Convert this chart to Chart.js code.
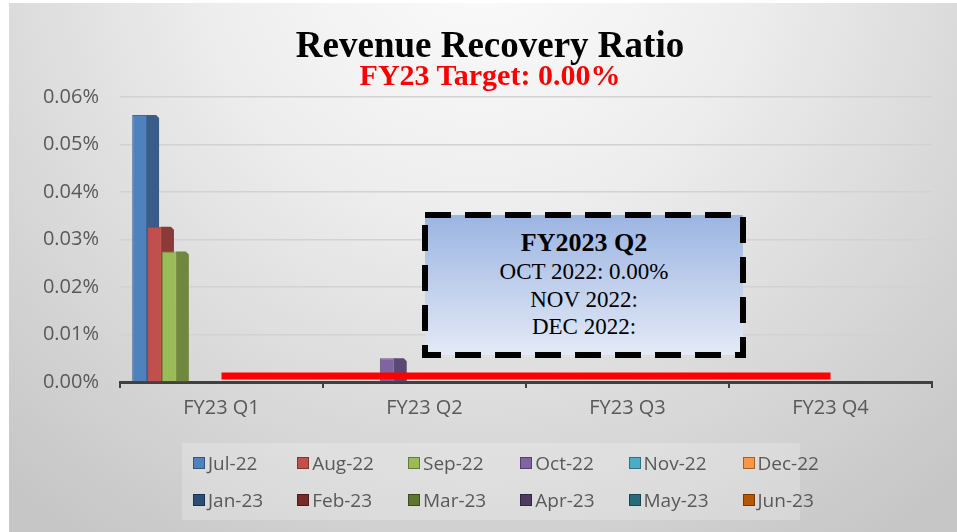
<!DOCTYPE html>
<html>
<head>
<meta charset="utf-8">
<script src="https://cdn.jsdelivr.net/npm/chart.js@4.4.1/dist/chart.umd.min.js"></script>
<style>
  body { margin:0; background:#fff; }
  #wrap { position:relative; width:957px; height:532px; overflow:hidden; }
  #c { position:absolute; left:0; top:0; }
  .ttl { position:absolute; left:290px; width:400px; text-align:center; white-space:nowrap;
    font-family:"Liberation Serif", "Times New Roman", serif; font-weight:bold; }
  #title { top:23px; font-size:37px; line-height:44px; color:#000; }
  #subtitle { top:57px; font-size:30px; line-height:36px; color:#ff0000; }
  #legend { position:absolute; left:182px; top:443px; width:618px; height:77px;
    background:rgba(255,255,255,0.22); box-sizing:border-box; padding:1px 0 0 11px;
    display:grid; grid-template-columns:repeat(6, auto); justify-content:start;
    column-gap:34px; grid-auto-rows:37px; font-family:"Open Sans", sans-serif; font-size:19px; color:#595959; }
  .li { display:flex; align-items:center; white-space:nowrap; }
  .sw { width:12px; height:12px; margin-right:3px; box-sizing:border-box; border:1px solid rgba(0,0,0,0.35); }
  #anno { position:absolute; left:419px; top:209px; }
  #annoText { position:absolute; left:425px; top:228px; width:318px; text-align:center;
    font-family:"Liberation Serif", "Times New Roman", serif; color:#000; }
  #annoText .h { font-weight:bold; font-size:26px; line-height:30px; }
  #annoText .l { font-size:23px; line-height:27.5px; }
</style>
</head>
<body>
<div id="wrap">
  <canvas id="c" width="957" height="532"></canvas>
  <div id="title" class="ttl"></div>
  <div id="subtitle" class="ttl"></div>
  <svg id="anno" width="330" height="152">
    <defs>
      <linearGradient id="ag" x1="0" y1="0" x2="0" y2="1">
        <stop offset="0" stop-color="#9bb4e2"/>
        <stop offset="1" stop-color="#e4eaf6"/>
      </linearGradient>
    </defs>
    <rect x="6" y="6" width="318" height="140" fill="url(#ag)" stroke="#000" stroke-width="6" stroke-dasharray="26 14"/>
  </svg>
  <div id="annoText"></div>
  <div id="legend"></div>
</div>
<script>
// ---- data ----
const categories = ['FY23 Q1', 'FY23 Q2', 'FY23 Q3', 'FY23 Q4'];
const months = ['Jul-22','Aug-22','Sep-22','Oct-22','Nov-22','Dec-22','Jan-23','Feb-23','Mar-23','Apr-23','May-23','Jun-23'];
const jul22 = [0.000562, null, null, null];
const aug22 = [0.000327, null, null, null];
const sep22 = [0.000275, null, null, null];
const oct22 = [null, 0.000050, null, null];
const nov22 = [null, 0, null, null];
const dec22 = [null, 0, null, null];
const jan23 = [null, null, 0, null];
const feb23 = [null, null, 0, null];
const mar23 = [null, null, 0, null];
const apr23 = [null, null, null, 0];
const may23 = [null, null, null, 0];
const jun23 = [null, null, null, 0];
const seriesValues = [jul22, aug22, sep22, oct22, nov22, dec22, jan23, feb23, mar23, apr23, may23, jun23];
const targetLine = [0, 0, 0, 0];
const yTicks = { min: 0, max: 0.0006, step: 0.0001 };
const titleText = 'Revenue Recovery Ratio';
const subtitleText = 'FY23 Target: 0.00%';
const annotationTitle = 'FY2023 Q2';
const annotationLines = ['OCT 2022: 0.00%', 'NOV 2022:', 'DEC 2022:'];

// ---- styles ----
const colors = ['#4F81BD','#C0504D','#9BBB59','#8064A2','#4BACC6','#F79646',
                '#2C4D75','#772C2A','#5F7530','#4D3B62','#276A7C','#B65708'];
function shade(hex, f) {
  const n = parseInt(hex.slice(1), 16);
  const r = Math.round(((n >> 16) & 255) * f), g = Math.round(((n >> 8) & 255) * f), b = Math.round((n & 255) * f);
  return `rgb(${r},${g},${b})`;
}

document.getElementById('title').textContent = titleText;
document.getElementById('subtitle').textContent = subtitleText;

// legend (HTML)
const leg = document.getElementById('legend');
months.forEach((m, i) => {
  const d = document.createElement('div'); d.className = 'li';
  const s = document.createElement('span'); s.className = 'sw'; s.style.background = colors[i];
  d.appendChild(s); d.appendChild(document.createTextNode(m)); leg.appendChild(d);
});
// annotation text
const at = document.getElementById('annoText');
const h = document.createElement('div'); h.className = 'h'; h.textContent = annotationTitle; at.appendChild(h);
annotationLines.forEach(t => { const l = document.createElement('div'); l.className = 'l'; l.textContent = t; at.appendChild(l); });

const bgPlugin = {
  id: 'bg',
  beforeDraw(chart) {
    const ctx = chart.ctx;
    ctx.save();
    ctx.fillStyle = '#fff';
    ctx.fillRect(0, 0, chart.width, chart.height);
    const g = ctx.createRadialGradient(480, -60, 20, 480, -60, 720);
    g.addColorStop(0, '#fbfbfb');
    g.addColorStop(0.35, '#eeeeee');
    g.addColorStop(0.75, '#d5d5d5');
    g.addColorStop(1, '#c6c6c6');
    ctx.fillStyle = g;
    ctx.fillRect(9, 3, chart.width - 9, chart.height - 3);
    ctx.restore();
  }
};

const DEPTH = 12;
const sidePlugin = {
  id: 'side3d',
  beforeDatasetsDraw(chart) {
    const ctx = chart.ctx;
    ctx.save();
    chart.data.datasets.forEach((ds, i) => {
      if (ds.type === 'line') return;
      const meta = chart.getDatasetMeta(i);
      meta.data.forEach((el, j) => {
        const v = ds.data[j];
        if (v === null || v === undefined || v === 0) return;
        const x = el.x + el.width / 2, top = el.y, base = el.base;
        ctx.fillStyle = shade(colors[i], 0.72);
        ctx.beginPath();
        ctx.moveTo(x - 1, top);
        ctx.lineTo(x + DEPTH - 3, top);
        ctx.lineTo(x + DEPTH, top + 3);
        ctx.lineTo(x + DEPTH, base);
        ctx.lineTo(x - 1, base);
        ctx.closePath();
        ctx.fill();
      });
    });
    ctx.restore();
  },
  beforeDatasetDraw(chart, args) {
    if (chart.data.datasets[args.index].type === 'line') {
      chart.ctx.save();
      chart.ctx.translate(0, -6);
    }
  },
  afterDatasetDraw(chart, args) {
    if (chart.data.datasets[args.index].type === 'line') chart.ctx.restore();
  }
};

const datasets = months.map((m, i) => ({
  type: 'bar',
  label: m,
  data: seriesValues[i],
  backgroundColor: colors[i],
  borderColor: shade(colors[i], 0.8),
  borderWidth: 1,
  order: 1
}));
datasets.push({
  type: 'line',
  label: 'Target',
  data: targetLine,
  borderColor: '#ff0000',
  borderWidth: 7,
  borderCapStyle: 'butt',
  pointRadius: 0,
  fill: false,
  clip: false,
  order: 0
});

new Chart(document.getElementById('c'), {
  data: { labels: categories, datasets },
  plugins: [bgPlugin, sidePlugin],
  options: {
    responsive: false,
    animation: false,
    layout: { padding: { left: 0, right: 25, top: 97, bottom: 0 } },
    datasets: { bar: { categoryPercentage: 0.88, barPercentage: 1.0 } },
    plugins: {
      legend: { display: false },
      tooltip: { enabled: false },
      title: { display: false }
    },
    scales: {
      x: {
        type: 'category',
        afterFit(s) { s.height = 150; },
        grid: { display: true, drawOnChartArea: false, drawTicks: true, tickLength: 6, color: '#404040', lineWidth: 2, offset: true },
        border: { display: true, color: '#404040', width: 3 },
        ticks: { color: '#595959', font: { family: '"Open Sans", sans-serif', size: 20 }, padding: 8 }
      },
      y: {
        min: yTicks.min, max: yTicks.max,
        afterFit(s) { s.width = 120; },
        grid: { color: '#d2d2d2', lineWidth: 1.5, drawTicks: false },
        border: { display: false },
        ticks: {
          stepSize: yTicks.step, color: '#595959', padding: 21,
          font: { family: '"Open Sans", sans-serif', size: 20 },
          callback: v => (v * 100).toFixed(2) + '%'
        }
      }
    }
  }
});
</script>
</body>
</html>
